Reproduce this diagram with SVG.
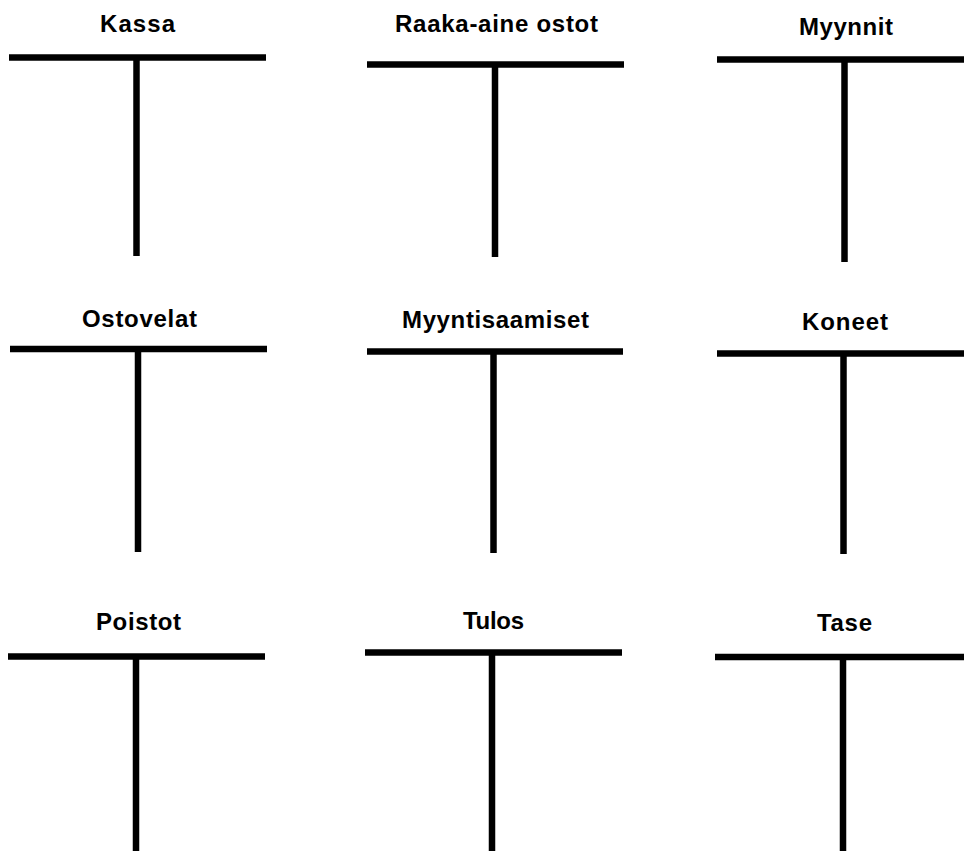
<svg xmlns="http://www.w3.org/2000/svg" width="964" height="851" viewBox="0 0 964 851">
<style>
.bg{fill:#ffffff}
.bar{stroke:#000;stroke-width:6.5;fill:none;stroke-linecap:butt}
.lbl{font-family:"Liberation Sans",Arial,sans-serif;font-weight:bold;font-size:24px;fill:#000}
</style>
<rect class="bg" x="0" y="0" width="964" height="851"/>
<g id="connectors">
</g>
<g id="kassa">
<text class="lbl" x="100" y="32" textLength="75" lengthAdjust="spacing">Kassa</text>
<line class="bar" x1="9" y1="57.5" x2="266" y2="57.5"/>
<line class="bar" x1="136.5" y1="57" x2="136.5" y2="256"/>
</g>
<g id="raaka-aine-ostot">
<text class="lbl" x="395" y="32" textLength="203" lengthAdjust="spacing">Raaka-aine ostot</text>
<line class="bar" x1="367" y1="64.5" x2="624" y2="64.5"/>
<line class="bar" x1="495" y1="64" x2="495" y2="257"/>
</g>
<g id="myynnit">
<text class="lbl" x="799" y="35" textLength="94" lengthAdjust="spacing">Myynnit</text>
<line class="bar" x1="717" y1="59.5" x2="964" y2="59.5"/>
<line class="bar" x1="844.5" y1="59" x2="844.5" y2="262"/>
</g>
<g id="ostovelat">
<text class="lbl" x="82" y="327" textLength="115" lengthAdjust="spacing">Ostovelat</text>
<line class="bar" x1="10" y1="349" x2="267" y2="349"/>
<line class="bar" x1="138" y1="349" x2="138" y2="552"/>
</g>
<g id="myyntisaamiset">
<text class="lbl" x="402" y="328" textLength="187" lengthAdjust="spacing">Myyntisaamiset</text>
<line class="bar" x1="367" y1="351.5" x2="623" y2="351.5"/>
<line class="bar" x1="493.5" y1="351" x2="493.5" y2="553"/>
</g>
<g id="koneet">
<text class="lbl" x="802" y="330" textLength="86" lengthAdjust="spacing">Koneet</text>
<line class="bar" x1="717" y1="353.5" x2="964" y2="353.5"/>
<line class="bar" x1="843.5" y1="353" x2="843.5" y2="554"/>
</g>
<g id="poistot">
<text class="lbl" x="96" y="630" textLength="85" lengthAdjust="spacing">Poistot</text>
<line class="bar" x1="8" y1="656.5" x2="265" y2="656.5"/>
<line class="bar" x1="136" y1="656" x2="136" y2="851"/>
</g>
<g id="tulos">
<text class="lbl" x="463" y="629" textLength="61" lengthAdjust="spacing">Tulos</text>
<line class="bar" x1="365" y1="652.5" x2="622" y2="652.5"/>
<line class="bar" x1="492" y1="652" x2="492" y2="851"/>
</g>
<g id="tase">
<text class="lbl" x="817" y="631" textLength="55" lengthAdjust="spacing">Tase</text>
<line class="bar" x1="715" y1="657" x2="964" y2="657"/>
<line class="bar" x1="843" y1="657" x2="843" y2="851"/>
</g>
</svg>
